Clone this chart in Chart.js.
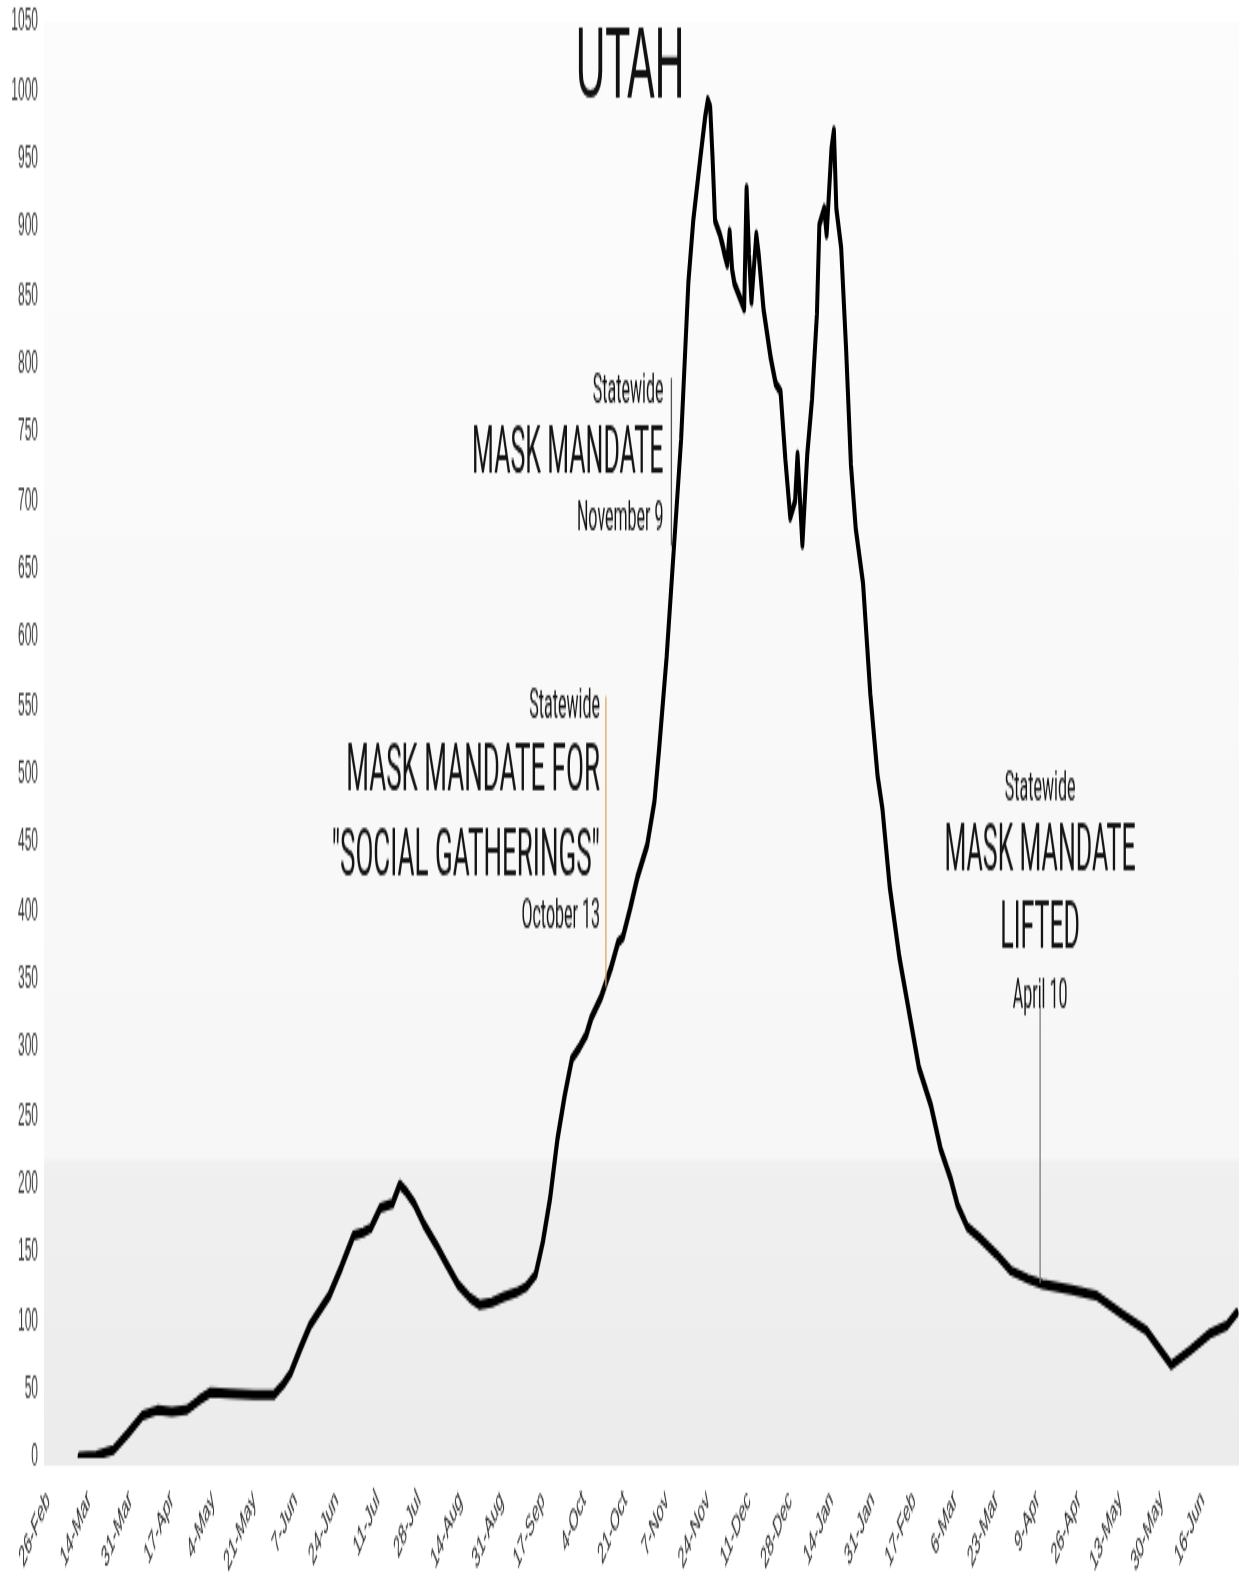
<!DOCTYPE html>
<html>
<head>
<meta charset="utf-8">
<script src="https://cdn.jsdelivr.net/npm/chart.js@4.4.0/dist/chart.umd.min.js"></script>
<style>
  html, body { margin: 0; padding: 0; background: #ffffff; }
  #c { display: block; width: 1248px; height: 1583px; }
</style>
</head>
<body>
<canvas id="c" width="1248" height="633" style="display:block;width:1248px;height:1583px"></canvas>
<script>
// ---------------- DATA ----------------
const chartTitle = 'UTAH';

const dates = [
  '2020-03-10','2020-03-17','2020-03-24','2020-03-30','2020-04-05','2020-04-11','2020-04-17','2020-04-23',
  '2020-04-28','2020-05-03','2020-05-11','2020-05-21','2020-05-29','2020-06-02','2020-06-05','2020-06-09',
  '2020-06-13','2020-06-17','2020-06-21','2020-06-26','2020-07-01','2020-07-05','2020-07-08','2020-07-12',
  '2020-07-17','2020-07-20','2020-07-23','2020-07-26','2020-07-30','2020-08-04','2020-08-08','2020-08-13',
  '2020-08-18','2020-08-22','2020-08-27','2020-09-01','2020-09-06','2020-09-10','2020-09-14','2020-09-17',
  '2020-09-20','2020-09-23','2020-09-26','2020-09-29','2020-10-02','2020-10-05','2020-10-07','2020-10-11',
  '2020-10-15','2020-10-18','2020-10-20','2020-10-23','2020-10-26','2020-10-30','2020-11-02','2020-11-04',
  '2020-11-07','2020-11-10','2020-11-13','2020-11-16','2020-11-18','2020-11-21','2020-11-23','2020-11-24',
  '2020-11-25','2020-11-26','2020-11-27','2020-11-29','2020-11-30','2020-12-01','2020-12-02','2020-12-03',
  '2020-12-04','2020-12-05','2020-12-07','2020-12-09','2020-12-10','2020-12-11','2020-12-12','2020-12-14',
  '2020-12-15','2020-12-17','2020-12-20','2020-12-22','2020-12-24','2020-12-26','2020-12-28','2020-12-30',
  '2020-12-31','2021-01-02','2021-01-04','2021-01-06','2021-01-08','2021-01-09','2021-01-11','2021-01-12',
  '2021-01-14','2021-01-15','2021-01-16','2021-01-18','2021-01-20','2021-01-22','2021-01-24','2021-01-27',
  '2021-01-30','2021-02-02','2021-02-04','2021-02-07','2021-02-11','2021-02-15','2021-02-19','2021-02-24',
  '2021-02-28','2021-03-04','2021-03-07','2021-03-11','2021-03-16','2021-03-23','2021-03-29','2021-04-05',
  '2021-04-11','2021-04-23','2021-05-03','2021-05-14','2021-05-24','2021-06-03','2021-06-11','2021-06-19',
  '2021-06-26','2021-06-30'
];

const cases = [
  1, 2, 6, 18, 31, 35, 34, 35,
  42, 48, 47, 46, 46, 54, 62, 80,
  97, 108, 119, 140, 163, 165, 168, 183,
  186, 200, 194, 186, 171, 156, 143, 127,
  117, 112, 114, 118, 121, 125, 134, 158,
  190, 233, 265, 292, 300, 310, 322, 337,
  358, 377, 381, 402, 425, 448, 480, 520,
  585, 665, 745, 860, 905, 952, 982, 993,
  988, 950, 905, 895, 888, 880, 873, 897,
  870, 859, 850, 841, 929, 880, 846, 895,
  880, 840, 804, 786, 780, 730, 688, 700,
  734, 668, 734, 775, 837, 902, 914, 895,
  958, 971, 914, 885, 812, 727, 680, 640,
  559, 499, 475, 418, 366, 326, 286, 258,
  226, 205, 185, 169, 161, 149, 137, 131,
  127, 123, 119, 105, 93, 68, 79, 91,
  97, 106
];

const tickDates = [
  '2020-02-26','2020-03-14','2020-03-31','2020-04-17','2020-05-04','2020-05-21','2020-06-07','2020-06-24',
  '2020-07-11','2020-07-28','2020-08-14','2020-08-31','2020-09-17','2020-10-04','2020-10-21','2020-11-07',
  '2020-11-24','2020-12-11','2020-12-28','2021-01-14','2021-01-31','2021-02-17','2021-03-06','2021-03-23',
  '2021-04-09','2021-04-26','2021-05-13','2021-05-30','2021-06-16'
];

const yMin = 0, yMax = 1050, yStep = 50;

const annotationDates = ['2020-10-13', '2020-11-09', '2021-04-10'];
const annotationTexts = [
  ['Statewide', 'MASK MANDATE FOR', '"SOCIAL GATHERINGS"', 'October 13'],
  ['Statewide', 'MASK MANDATE', 'November 9'],
  ['Statewide', 'MASK MANDATE', 'LIFTED', 'April 10']
];

// ---------------- HELPERS ----------------
const MONTHS = ['Jan','Feb','Mar','Apr','May','Jun','Jul','Aug','Sep','Oct','Nov','Dec'];
const ORIGIN = Date.UTC(2020, 1, 26);
function parts(iso) { return iso.split('-').map(Number); }
function dayNum(iso) { const [y, m, d] = parts(iso); return (Date.UTC(y, m - 1, d) - ORIGIN) / 86400000; }
function fmt(iso) { const [y, m, d] = parts(iso); return d + '-' + MONTHS[m - 1]; }

const tickLabelByDay = {};
tickDates.forEach(t => { tickLabelByDay[dayNum(t)] = fmt(t); });

const points = dates.map((d, i) => ({ x: dayNum(d), y: cases[i] }));

// annotation layout (styles / placement, in value units of the y axis)
const annotationLayout = [
  { lineTop: 557, lineBottom: 345, lineColor: '#d9a863', align: 'right', dx: -6,
    textY: [548, 500, 439, 396], sizes: [16, 26, 26, 16] },
  { lineTop: 790, lineBottom: 667, lineColor: '#555555', align: 'right', dx: -8,
    textY: [779, 732, 686], sizes: [16, 25, 16] },
  { lineTop: 330, lineBottom: 128, lineColor: '#7a7a7a', align: 'center', dx: 0,
    textY: [489, 441, 384, 337], sizes: [16, 25, 25, 16] }
];

// ---------------- PLUGINS ----------------
const backgroundPlugin = {
  id: 'bg',
  beforeDraw(chart) {
    const { ctx, chartArea: a, width, height } = chart;
    ctx.save();
    ctx.fillStyle = '#ffffff';
    ctx.fillRect(0, 0, width, height);
    const g = ctx.createLinearGradient(0, a.top, 0, a.bottom);
    g.addColorStop(0, '#fcfcfc');
    g.addColorStop(0.79, '#f7f7f7');
    g.addColorStop(0.795, '#f0f0f0');
    g.addColorStop(1, '#ececec');
    ctx.fillStyle = g;
    ctx.fillRect(a.left, a.top, a.right - a.left, a.bottom - a.top + 3);
    ctx.restore();
  }
};

const overlayPlugin = {
  id: 'overlay',
  afterDatasetsDraw(chart) {
    const { ctx, scales: { x, y } } = chart;
    ctx.save();
    // title
    ctx.fillStyle = '#111111';
    ctx.font = '41px "Liberation Sans", Arial, sans-serif';
    ctx.textAlign = 'center';
    ctx.textBaseline = 'alphabetic';
    ctx.fillText(chartTitle, 630, 39);

    annotationDates.forEach((d, i) => {
      const L = annotationLayout[i];
      const px = x.getPixelForValue(dayNum(d));
      ctx.strokeStyle = L.lineColor;
      ctx.lineWidth = 1.3;
      ctx.beginPath();
      ctx.moveTo(px, y.getPixelForValue(L.lineTop));
      ctx.lineTo(px, y.getPixelForValue(L.lineBottom));
      ctx.stroke();
      ctx.fillStyle = '#141414';
      ctx.textAlign = L.align;
      ctx.textBaseline = 'middle';
      annotationTexts[i].forEach((t, j) => {
        ctx.font = L.sizes[j] + 'px Roboto, "Liberation Sans", sans-serif';
        ctx.fillText(t, px + L.dx, y.getPixelForValue(L.textY[j]));
      });
    });
    ctx.restore();
  }
};

// ---------------- CHART ----------------
new Chart(document.getElementById('c'), {
  type: 'line',
  data: {
    datasets: [{
      label: 'Utah',
      data: points,
      borderColor: '#000000',
      borderWidth: 4,
      pointRadius: 0,
      tension: 0,
      fill: false,
      borderJoinStyle: 'round',
      borderCapStyle: 'round'
    }]
  },
  options: {
    responsive: false,
    animation: false,
    devicePixelRatio: 1,
    layout: { padding: { top: 9, right: 9, bottom: 0, left: 0 } },
    plugins: { legend: { display: false }, tooltip: { enabled: false }, title: { display: false } },
    scales: {
      x: {
        type: 'linear',
        min: -1.65,
        max: 491,
        grid: { display: false },
        border: { display: false },
        afterBuildTicks: s => { s.ticks = tickDates.map(t => ({ value: dayNum(t) })); },
        afterFit: s => { s.height = 50; s.paddingLeft = 0; s.paddingRight = 0; },
        ticks: {
          autoSkip: false,
          minRotation: 45,
          maxRotation: 45,
          padding: 2,
          color: '#2a2a2a',
          font: { family: '"Liberation Sans", Arial, sans-serif', size: 12 },
          callback: v => tickLabelByDay[v] || ''
        }
      },
      y: {
        min: yMin,
        max: yMax,
        grid: { display: false, drawTicks: false },
        border: { display: false },
        afterFit: s => { s.width = 44; s.paddingTop = 0; s.paddingBottom = 0; },
        ticks: {
          stepSize: yStep,
          padding: 6,
          color: '#3a3a3a',
          font: { family: '"Liberation Sans", Arial, sans-serif', size: 12 },
          callback: v => String(v)
        }
      }
    }
  },
  plugins: [backgroundPlugin, overlayPlugin]
});
</script>
</body>
</html>
